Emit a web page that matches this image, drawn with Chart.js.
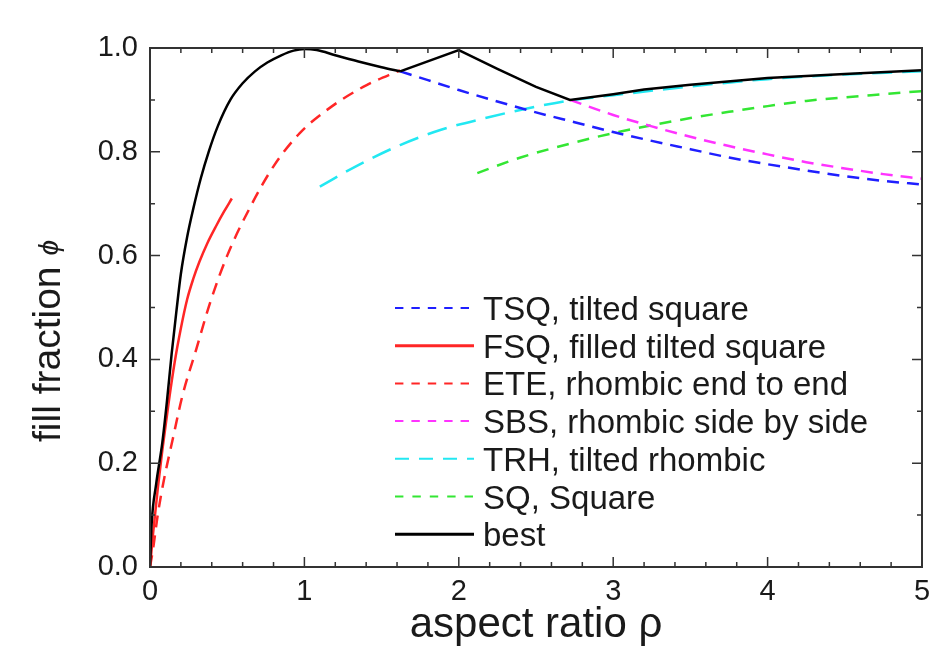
<!DOCTYPE html>
<html>
<head>
<meta charset="utf-8">
<script src="https://cdn.jsdelivr.net/npm/chart.js@4.4.0/dist/chart.umd.min.js"></script>
<style>
    html, body { margin: 0; padding: 0; background: #fff; }
    #wrap { width: 933px; height: 651px; }
</style>
</head>
<body>
<div id="wrap"><canvas id="chartFill" width="933" height="651"></canvas></div>
<script>
const FONT = '"Liberation Sans", Arial, sans-serif';

const xTickLabels = ["0", "1", "2", "3", "4", "5"];
const yTickLabels = ["0.0", "0.2", "0.4", "0.6", "0.8", "1.0"];

// TSQ, tilted square
const tsqX = [1.62, 1.8, 2.0, 2.25, 2.5, 2.75, 3.0, 3.25, 3.5, 3.75, 4.0, 4.25, 4.5, 4.75, 5.0];
const tsqY = [0.955, 0.938, 0.919, 0.897, 0.876, 0.857, 0.838, 0.821, 0.805, 0.789, 0.776, 0.764, 0.753, 0.744, 0.737];

// FSQ, filled tilted square
const fsqX = [0, 0.02, 0.05, 0.08, 0.12, 0.16, 0.20, 0.24, 0.28, 0.32, 0.37, 0.43, 0.48, 0.53];
const fsqY = [0, 0.065, 0.15, 0.225, 0.315, 0.395, 0.46, 0.515, 0.555, 0.588, 0.623, 0.658, 0.685, 0.71];

// ETE, rhombic end to end
const eteX = [0, 0.02, 0.05, 0.085, 0.15, 0.21, 0.30, 0.39, 0.50, 0.65, 0.80, 0.97, 1.18, 1.40, 1.62];
const eteY = [0, 0.035, 0.10, 0.16, 0.25, 0.33, 0.42, 0.51, 0.60, 0.694, 0.772, 0.836, 0.888, 0.928, 0.957];

// SBS, rhombic side by side
const sbsX = [2.72, 3.0, 3.25, 3.5, 3.75, 4.0, 4.25, 4.5, 4.75, 5.0];
const sbsY = [0.90, 0.871, 0.849, 0.829, 0.811, 0.795, 0.780, 0.768, 0.757, 0.748];

// TRH, tilted rhombic
const trhX = [1.10, 1.34, 1.62, 1.88, 2.2, 2.45, 2.72, 3.0, 3.5, 4.0, 4.5, 5.0];
const trhY = [0.733, 0.773, 0.813, 0.842, 0.867, 0.884, 0.899, 0.909, 0.926, 0.94, 0.949, 0.955];

// SQ, Square
const sqX = [2.12, 2.4, 2.75, 3.0, 3.25, 3.5, 3.75, 4.0, 4.25, 4.5, 4.75, 5.0];
const sqY = [0.759, 0.789, 0.818, 0.836, 0.851, 0.865, 0.877, 0.888, 0.898, 0.905, 0.911, 0.917];

// best (smooth up to the first kink at 1.62, straight pieces after it)
const bestX = [0, 0.01, 0.04, 0.08, 0.11, 0.14, 0.17, 0.20, 0.24, 0.28, 0.33, 0.38, 0.44, 0.52, 0.60, 0.68, 0.76, 0.85, 0.93, 1.0,
    1.08, 1.2, 1.35, 1.5, 1.62, 2.0, 2.25, 2.5, 2.72, 3.0, 3.2, 3.5, 4.0, 4.5, 5.0];
const bestY = [0, 0.08, 0.16, 0.24, 0.32, 0.41, 0.49, 0.565, 0.635, 0.69, 0.75, 0.80, 0.85, 0.90, 0.932, 0.955, 0.972, 0.986, 0.995, 0.998,
    0.996, 0.986, 0.974, 0.963, 0.955, 0.996, 0.96, 0.925, 0.90, 0.911, 0.92, 0.929, 0.942, 0.95, 0.957];
const bestKink = 1.62;

function pts(xs, ys) {
    return xs.map((x, i) => ({ x: x, y: ys[i] }));
}

function line(label, data, color, dash, order) {
    return {
        label: label,
        data: data,
        borderColor: color,
        borderWidth: 2.5,
        borderDash: dash,
        pointRadius: 0,
        fill: false,
        tension: 0,
        cubicInterpolationMode: "monotone",
        order: order
    };
}

const bestPts = pts(bestX, bestY);
const bestSmooth = bestPts.filter(p => p.x <= bestKink);
const bestRest = bestPts.filter(p => p.x >= bestKink);

// box round the plot with inward ticks on all four sides
const framePlugin = {
    id: "frame",
    afterDraw(chart) {
        const { ctx, chartArea: a, scales } = chart;
        ctx.save();
        ctx.strokeStyle = "#333";
        ctx.lineWidth = 2;
        ctx.strokeRect(a.left, a.top, a.right - a.left, a.bottom - a.top);
        ctx.lineWidth = 1.5;
        ctx.beginPath();
        for (let i = 0; i <= 25; i++) {
            const px = scales.x.getPixelForValue(i * 0.2);
            const len = i % 5 === 0 ? 10 : 5;
            ctx.moveTo(px, a.bottom); ctx.lineTo(px, a.bottom - len);
            ctx.moveTo(px, a.top); ctx.lineTo(px, a.top + len);
        }
        for (let i = 0; i <= 10; i++) {
            const py = scales.y.getPixelForValue(i / 10);
            const len = i % 2 === 0 ? 10 : 5;
            ctx.moveTo(a.left, py); ctx.lineTo(a.left + len, py);
            ctx.moveTo(a.right, py); ctx.lineTo(a.right - len, py);
        }
        ctx.stroke();
        ctx.restore();
    }
};

const legendPlugin = {
    id: "boxLegend",
    afterDraw(chart) {
        const ctx = chart.ctx;
        ctx.save();
        ctx.font = "33px " + FONT;
        ctx.fillStyle = "#1a1a1a";
        ctx.textBaseline = "alphabetic";
        chart.data.datasets.filter(ds => !ds.noLegend).forEach((ds, i) => {
            const y = 308 + i * 37.7;
            ctx.strokeStyle = ds.borderColor;
            ctx.lineWidth = ds.borderDash.length ? 2 : 3;
            ctx.setLineDash(ds.borderDash.length ? [ds.borderDash[0] * 0.7, ds.borderDash[1]] : []);
            ctx.beginPath();
            ctx.moveTo(395, y);
            ctx.lineTo(474, y);
            ctx.stroke();
            ctx.setLineDash([]);
            ctx.fillText(ds.label, 483, y + 12);
        });
        ctx.restore();
    }
};

const titlePlugin = {
    id: "axisTitles",
    afterDraw(chart) {
        const { ctx, chartArea: a } = chart;
        ctx.save();
        ctx.fillStyle = "#1a1a1a";
        ctx.textBaseline = "alphabetic";
        ctx.textAlign = "center";
        ctx.font = "42px " + FONT;
        ctx.fillText("aspect ratio \u03c1", (a.left + a.right) / 2, 637);

        ctx.translate(60, 442);
        ctx.rotate(-Math.PI / 2);
        ctx.textAlign = "left";
        ctx.font = "39px " + FONT;
        const t = "fill fraction ";
        ctx.fillText(t, 0, 0);
        const w = ctx.measureText(t).width;
        ctx.font = "italic 28px " + FONT;
        ctx.fillText("\u03d5", w, -2);
        ctx.restore();
    }
};

new Chart(document.getElementById("chartFill"), {
    type: "line",
    data: {
        datasets: [
            line("TSQ, tilted square", pts(tsqX, tsqY), "#1f1fff", [12, 8], 1),
            line("FSQ, filled tilted square", pts(fsqX, fsqY), "#ff2626", [], 1),
            line("ETE, rhombic end to end", pts(eteX, eteY), "#ff2626", [12, 8], 1),
            line("SBS, rhombic side by side", pts(sbsX, sbsY), "#ff33ff", [12, 8], 1),
            line("TRH, tilted rhombic", pts(trhX, trhY), "#22e8f2", [20, 10], 2),
            line("SQ, Square", pts(sqX, sqY), "#33e633", [12, 9], 1),
            line("best", bestSmooth, "#000000", [], 0),
            Object.assign(line("best", bestRest, "#000000", [], 0), { cubicInterpolationMode: "default", noLegend: true })
        ]
    },
    options: {
        responsive: false,
        animation: false,
        layout: { padding: { left: 0, top: 48, right: 11, bottom: 0 } },
        plugins: {
            legend: { display: false },
            tooltip: { enabled: false }
        },
        scales: {
            x: {
                type: "linear",
                min: 0,
                max: 5,
                afterFit: (scale) => {
                    scale.height = 84;
                    scale.paddingLeft = 0;
                    scale.paddingRight = 0;
                },
                grid: { display: false, drawTicks: false },
                border: { display: false },
                ticks: {
                    stepSize: 1,
                    padding: 8,
                    color: "#1a1a1a",
                    font: { family: FONT, size: 29 },
                    maxRotation: 0,
                    callback: (v) => xTickLabels[Math.round(v)]
                }
            },
            y: {
                min: 0,
                max: 1,
                afterFit: (scale) => {
                    scale.width = 150;
                    scale.paddingTop = 0;
                    scale.paddingBottom = 0;
                },
                grid: { display: false, drawTicks: false },
                border: { display: false },
                ticks: {
                    stepSize: 0.2,
                    padding: 12,
                    color: "#1a1a1a",
                    font: { family: FONT, size: 29 },
                    callback: (v) => yTickLabels[Math.round(v / 0.2)]
                }
            }
        }
    },
    plugins: [framePlugin, legendPlugin, titlePlugin]
});
</script>
</body>
</html>
